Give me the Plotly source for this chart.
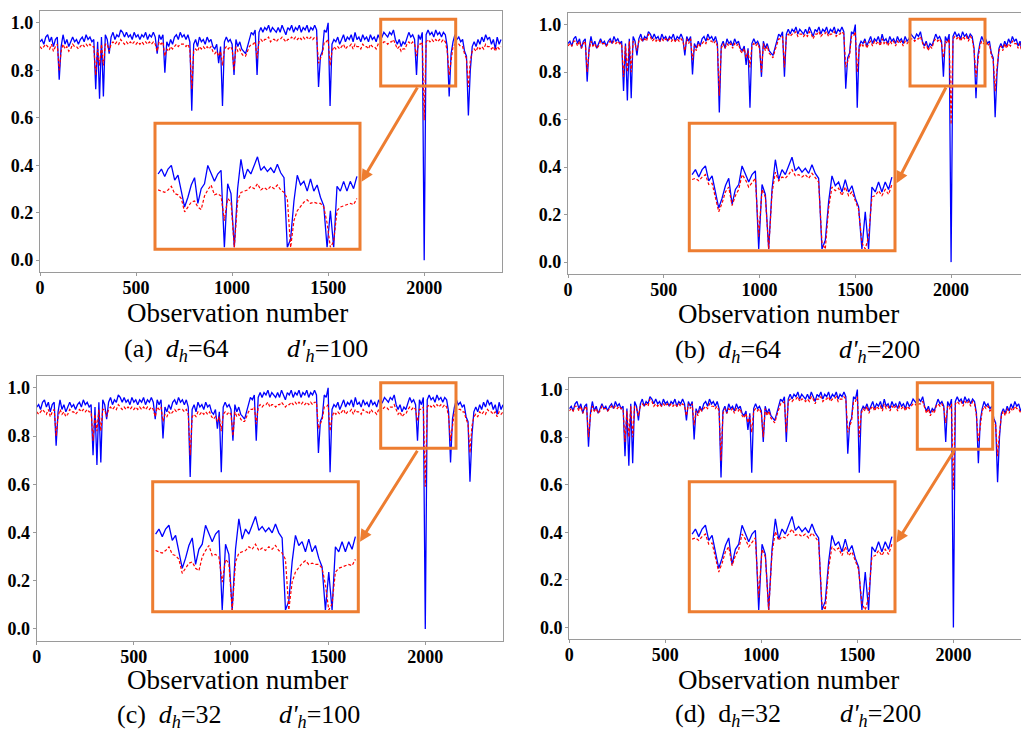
import plotly.graph_objects as go

# ---------------- data ----------------
obs_x = list(range(0, 2410, 10))

blue_vals = [
    0.92,0.93,0.91,0.94,0.95,0.92,0.94,0.90,0.93,0.94,
    0.76,0.90,0.95,0.91,0.93,0.90,0.92,0.94,0.92,0.93,
    0.91,0.93,0.94,0.92,0.95,0.93,0.94,0.92,0.93,0.72,
    0.92,0.68,0.94,0.69,0.95,0.93,0.87,0.94,0.96,0.93,
    0.95,0.94,0.97,0.96,0.94,0.96,0.94,0.95,0.93,0.96,
    0.94,0.95,0.93,0.95,0.94,0.96,0.93,0.95,0.94,0.96,
    0.94,0.87,0.95,0.93,0.95,0.79,0.92,0.90,0.93,0.91,
    0.94,0.95,0.93,0.96,0.94,0.95,0.93,0.95,0.92,0.63,
    0.91,0.93,0.90,0.94,0.92,0.93,0.91,0.94,0.92,0.93,
    0.90,0.89,0.91,0.83,0.90,0.65,0.92,0.94,0.92,0.93,
    0.91,0.78,0.93,0.90,0.92,0.89,0.88,0.87,0.90,0.93,
    0.96,0.95,0.97,0.78,0.96,0.98,0.96,0.98,0.97,0.99,
    0.96,0.98,0.97,0.96,0.98,0.96,0.99,0.97,0.95,0.98,
    0.97,0.99,0.96,0.98,0.97,0.99,0.96,0.98,0.97,0.99,
    0.96,0.98,0.97,0.99,0.97,0.73,0.86,0.88,0.97,0.96,
    1.00,0.65,0.91,0.93,0.92,0.94,0.91,0.93,0.95,0.92,
    0.94,0.93,0.95,0.92,0.96,0.93,0.94,0.92,0.95,0.93,
    0.94,0.92,0.95,0.93,0.94,0.92,0.95,0.93,0.94,0.96,
    0.95,0.94,0.96,0.95,0.97,0.93,0.91,0.93,0.90,0.92,
    0.91,0.94,0.96,0.94,0.95,0.93,0.78,0.95,0.93,0.96,
    0.00,0.95,0.97,0.95,0.96,0.94,0.97,0.95,0.96,0.94,
    0.96,0.95,0.90,0.69,0.87,0.92,0.95,0.93,0.94,0.92,
    0.93,0.88,0.86,0.61,0.80,0.90,0.92,0.90,0.93,0.91,
    0.94,0.92,0.95,0.93,0.94,0.91,0.93,0.89,0.94,0.91,
    0.93,
]

red_ac = [
    0.90,0.89,0.90,0.91,0.90,0.89,0.91,0.88,0.90,0.91,
    0.80,0.88,0.91,0.89,0.90,0.88,0.89,0.91,0.90,0.90,
    0.89,0.90,0.91,0.90,0.91,0.90,0.91,0.90,0.90,0.78,
    0.89,0.82,0.91,0.82,0.91,0.91,0.88,0.91,0.92,0.91,
    0.92,0.91,0.93,0.92,0.91,0.92,0.91,0.92,0.91,0.92,
    0.91,0.92,0.91,0.92,0.91,0.92,0.91,0.92,0.91,0.92,
    0.91,0.88,0.92,0.91,0.92,0.86,0.89,0.88,0.90,0.89,
    0.90,0.91,0.90,0.91,0.91,0.91,0.90,0.91,0.89,0.72,
    0.88,0.89,0.88,0.90,0.89,0.90,0.89,0.90,0.89,0.90,
    0.88,0.87,0.88,0.86,0.88,0.82,0.89,0.90,0.89,0.90,
    0.89,0.80,0.90,0.88,0.89,0.87,0.86,0.86,0.88,0.90,
    0.91,0.91,0.92,0.85,0.92,0.93,0.92,0.93,0.93,0.94,
    0.92,0.93,0.93,0.92,0.93,0.93,0.94,0.93,0.92,0.93,
    0.93,0.94,0.93,0.94,0.93,0.94,0.93,0.94,0.93,0.94,
    0.93,0.94,0.93,0.94,0.94,0.83,0.85,0.87,0.92,0.92,
    0.93,0.82,0.88,0.90,0.89,0.90,0.89,0.90,0.91,0.89,
    0.90,0.90,0.91,0.89,0.91,0.90,0.90,0.89,0.91,0.90,
    0.90,0.89,0.91,0.90,0.90,0.89,0.91,0.90,0.91,0.92,
    0.92,0.91,0.92,0.92,0.93,0.91,0.89,0.90,0.88,0.89,
    0.89,0.91,0.92,0.91,0.92,0.91,0.86,0.91,0.91,0.92,
    0.59,0.92,0.93,0.92,0.93,0.92,0.93,0.92,0.93,0.92,
    0.93,0.92,0.88,0.78,0.85,0.90,0.91,0.91,0.91,0.90,
    0.90,0.87,0.85,0.73,0.84,0.88,0.89,0.88,0.90,0.89,
    0.90,0.89,0.91,0.90,0.90,0.89,0.90,0.88,0.90,0.89,
    0.90,
]

red_bd = [
    0.91,0.92,0.91,0.93,0.93,0.91,0.93,0.90,0.92,0.93,
    0.80,0.89,0.93,0.91,0.92,0.90,0.91,0.93,0.92,0.92,
    0.91,0.92,0.93,0.92,0.93,0.92,0.93,0.92,0.92,0.78,
    0.91,0.80,0.93,0.80,0.93,0.92,0.89,0.93,0.94,0.93,
    0.94,0.93,0.96,0.95,0.93,0.94,0.93,0.94,0.93,0.94,
    0.93,0.94,0.93,0.94,0.93,0.94,0.93,0.94,0.93,0.94,
    0.93,0.89,0.94,0.92,0.94,0.85,0.91,0.89,0.92,0.91,
    0.92,0.93,0.92,0.94,0.93,0.93,0.92,0.93,0.91,0.70,
    0.90,0.92,0.90,0.92,0.91,0.92,0.90,0.92,0.91,0.92,
    0.89,0.88,0.90,0.86,0.89,0.82,0.91,0.92,0.91,0.92,
    0.90,0.80,0.92,0.89,0.91,0.88,0.87,0.86,0.89,0.92,
    0.94,0.94,0.95,0.82,0.95,0.96,0.95,0.96,0.96,0.97,
    0.95,0.96,0.96,0.95,0.96,0.95,0.97,0.96,0.94,0.96,
    0.96,0.97,0.95,0.96,0.96,0.97,0.95,0.96,0.96,0.97,
    0.95,0.96,0.96,0.97,0.96,0.82,0.85,0.87,0.95,0.95,
    0.97,0.80,0.90,0.92,0.91,0.93,0.90,0.92,0.93,0.91,
    0.93,0.92,0.93,0.91,0.94,0.92,0.93,0.91,0.93,0.92,
    0.93,0.91,0.93,0.92,0.93,0.91,0.93,0.92,0.93,0.94,
    0.94,0.93,0.94,0.94,0.95,0.92,0.90,0.92,0.89,0.91,
    0.90,0.93,0.94,0.93,0.94,0.92,0.86,0.93,0.92,0.94,
    0.58,0.94,0.95,0.94,0.95,0.93,0.95,0.94,0.95,0.93,
    0.95,0.94,0.89,0.78,0.86,0.91,0.93,0.92,0.93,0.91,
    0.92,0.87,0.85,0.72,0.82,0.89,0.91,0.89,0.92,0.90,
    0.92,0.91,0.93,0.92,0.92,0.90,0.92,0.88,0.92,0.90,
    0.92,
]

# zoomed-in insets (observation 1790..2150, inset scale)
inset_x = list(range(1790, 2156, 6))
inset_blue = [
    0.60,0.64,0.58,0.64,0.67,0.55,0.59,0.45,0.33,0.41,
    0.51,0.57,0.36,0.48,0.52,0.67,0.61,0.54,0.60,0.63,
    0.00,0.52,0.44,0.00,0.48,0.72,0.56,0.64,0.60,0.67,
    0.74,0.63,0.66,0.62,0.65,0.61,0.68,0.61,0.57,0.00,
    0.07,0.38,0.59,0.51,0.54,0.46,0.56,0.46,0.51,0.41,
    0.34,0.00,0.30,0.00,0.50,0.46,0.54,0.46,0.54,0.48,
    0.58,
]
inset_red_ac = [
    0.47,0.46,0.45,0.47,0.50,0.44,0.43,0.40,0.29,0.33,
    0.37,0.38,0.33,0.31,0.42,0.47,0.51,0.43,0.44,0.42,
    0.22,0.40,0.37,0.00,0.38,0.45,0.46,0.47,0.50,0.48,
    0.52,0.47,0.49,0.47,0.50,0.48,0.51,0.47,0.45,0.40,
    0.00,0.22,0.30,0.34,0.37,0.39,0.36,0.37,0.36,0.36,
    0.33,0.20,0.00,0.05,0.30,0.33,0.34,0.35,0.36,0.35,
    0.40,
]
inset_red_bd = [
    0.56,0.57,0.55,0.58,0.60,0.52,0.53,0.42,0.30,0.37,
    0.46,0.50,0.35,0.43,0.48,0.60,0.56,0.50,0.54,0.57,
    0.10,0.48,0.42,0.00,0.45,0.62,0.55,0.58,0.57,0.60,
    0.64,0.59,0.60,0.58,0.60,0.57,0.61,0.57,0.54,0.05,
    0.00,0.33,0.50,0.47,0.49,0.43,0.50,0.43,0.46,0.39,
    0.32,0.05,0.00,0.10,0.42,0.43,0.47,0.43,0.48,0.44,
    0.52,
]

x_ticks = [0, 500, 1000, 1500, 2000]
y_ticks = [0.0, 0.2, 0.4, 0.6, 0.8, 1.0]
captions = [
    ("(a)\u00a0\u00a0<i>d</i><sub><i>h</i></sub>=64", "<i>d'</i><sub><i>h</i></sub>=100"),
    ("(b)\u00a0\u00a0<i>d</i><sub><i>h</i></sub>=64", "<i>d'</i><sub><i>h</i></sub>=200"),
    ("(c)\u00a0\u00a0<i>d</i><sub><i>h</i></sub>=32", "<i>d'</i><sub><i>h</i></sub>=100"),
    ("(d)\u00a0\u00a0d<sub><i>h</i></sub>=32", "<i>d'</i><sub><i>h</i></sub>=200"),
]
x_title = "Observation number"

# ---------------- layout helpers ----------------
W, H = 1021, 733
def px(x):
    return x / W
def py(y):
    return 1 - y / H

ORANGE = "#ED7D31"
AXC = "#9a9a9a"
SERIF = "Liberation Serif"

panels = [
    dict(xs=(40, 502), ys=(11, 272), xmax=2405, right=True, red=red_ac,
         inset=(157, 358, 125, 247.5), ibox=(155, 360, 123.3, 249.3), ired=inset_red_ac,
         sbox=(380.7, 455.7, 19.3, 86), arrow=((361.5, 181.7), (418.3, 86)),
         cap=(122, 285, 350), title=(237, 313)),
    dict(xs=(568, 1021), ys=(12.7, 274), xmax=2365, right=False, red=red_bd,
         inset=(691, 893, 125, 249), ibox=(689.3, 895, 123.3, 250.7), ired=inset_red_bd,
         sbox=(910, 985, 19.3, 86), arrow=((896.5, 183.3), (946.7, 86)),
         cap=(673, 837, 351), title=(788, 314)),
    dict(xs=(36.7, 503), ys=(375.7, 641), xmax=2400, right=True, red=red_ac,
         inset=(154.5, 356.5, 483.5, 610), ibox=(152.7, 358.3, 481.7, 611.7), ired=inset_red_ac,
         sbox=(380.7, 456, 382.7, 448.3), arrow=((360, 541.7), (418.3, 449.3)),
         cap=(115, 277, 716), title=(237, 680)),
    dict(xs=(569.3, 1021), ys=(377.7, 639.3), xmax=2352, right=False, red=red_bd,
         inset=(691, 893, 483.5, 610), ibox=(689.3, 895, 481.7, 611.7), ired=inset_red_bd,
         sbox=(917.3, 992.7, 382.7, 449.3), arrow=((896.5, 542.7), (955, 449.3)),
         cap=(673, 838, 715), title=(788, 680)),
]

fig = go.Figure()
layout = dict(
    template="none",
    width=W, height=H,
    margin=dict(l=0, r=0, t=0, b=0, autoexpand=False),
    paper_bgcolor="white", plot_bgcolor="white",
    showlegend=False,
    shapes=[], annotations=[],
)

tickfont = dict(family=SERIF, size=18, color="black", weight="bold")

for i, p in enumerate(panels):
    n = i + 1
    sfx = "" if n == 1 else str(n)
    xa, ya = "x" + sfx, "y" + sfx
    fig.add_trace(go.Scatter(x=obs_x, y=blue_vals, mode="lines", xaxis=xa, yaxis=ya,
                             line=dict(color="#0000ff", width=1.3), hoverinfo="skip"))
    fig.add_trace(go.Scatter(x=obs_x, y=p["red"], mode="lines", xaxis=xa, yaxis=ya,
                             line=dict(color="#ff0000", width=1.2, dash="3px,2px"), hoverinfo="skip"))
    layout["xaxis" + sfx] = dict(
        domain=[px(p["xs"][0]), px(p["xs"][1])], anchor=ya, range=[0, p["xmax"]],
        automargin=False,
        showline=True, linecolor=AXC, linewidth=1.2, mirror=True,
        ticks="outside", ticklen=3, tickcolor=AXC, tickwidth=1, ticklabelstandoff=-4,
        tickvals=x_ticks, tickfont=tickfont, showgrid=False, zeroline=False,
    )
    layout["yaxis" + sfx] = dict(
        domain=[py(p["ys"][1]), py(p["ys"][0])], anchor=xa, range=[-0.05, 1.05],
        automargin=False,
        showline=True, linecolor=AXC, linewidth=1.2, mirror=p["right"],
        ticks="outside", ticklen=3, tickcolor=AXC, tickwidth=1, ticklabelstandoff=-1,
        tickvals=y_ticks, tickformat=".1f", tickfont=tickfont, showgrid=False, zeroline=False,
    )

    # inset
    m = n + 4
    ixa, iya = "x%d" % m, "y%d" % m
    x0, x1, y0, y1 = p["inset"]
    fig.add_trace(go.Scatter(x=inset_x, y=inset_blue, mode="lines", xaxis=ixa, yaxis=iya,
                             line=dict(color="#0000ff", width=1.3), hoverinfo="skip"))
    fig.add_trace(go.Scatter(x=inset_x, y=p["ired"], mode="lines", xaxis=ixa, yaxis=iya,
                             line=dict(color="#ff0000", width=1.2, dash="3px,2px"), hoverinfo="skip"))
    layout["xaxis%d" % m] = dict(domain=[px(x0), px(x1)], anchor=iya, range=[1788, 2152],
                                  visible=False, automargin=False)
    layout["yaxis%d" % m] = dict(domain=[py(y1), py(y0)], anchor=ixa, range=[0, 1],
                                  visible=False, automargin=False)

    bx0, bx1, by0, by1 = p["ibox"]
    layout["shapes"].append(dict(type="rect", xref="paper", yref="paper",
                                 x0=px(bx0), x1=px(bx1), y0=py(by1), y1=py(by0),
                                 line=dict(color=ORANGE, width=3)))
    sx0, sx1, sy0, sy1 = p["sbox"]
    layout["shapes"].append(dict(type="rect", xref="paper", yref="paper",
                                 x0=px(sx0), x1=px(sx1), y0=py(sy1), y1=py(sy0),
                                 line=dict(color=ORANGE, width=3)))
    (tx, ty), (tlx, tly) = p["arrow"]
    layout["annotations"].append(dict(
        x=px(tx), y=py(ty), xref="paper", yref="paper", text="", showarrow=True,
        ax=tlx - tx, ay=tly - ty, arrowhead=2, arrowsize=0.8, arrowwidth=3,
        arrowcolor=ORANGE, standoff=0, startstandoff=0))

    tcx, tcy = p["title"]
    layout["annotations"].append(dict(
        x=px(tcx), y=py(tcy), xref="paper", yref="paper", text=x_title, showarrow=False,
        xanchor="center", yanchor="middle", font=dict(family=SERIF, size=27, color="black")))
    c1, c2, cy = p["cap"]
    t1, t2 = captions[i]
    layout["annotations"].append(dict(
        x=px(c1), y=py(cy), xref="paper", yref="paper", text=t1, showarrow=False,
        xanchor="left", yanchor="middle", font=dict(family=SERIF, size=26, color="black")))
    layout["annotations"].append(dict(
        x=px(c2), y=py(cy), xref="paper", yref="paper", text=t2, showarrow=False,
        xanchor="left", yanchor="middle", font=dict(family=SERIF, size=26, color="black")))

fig.update_layout(**layout)
fig.write_html("out.html", config={"displayModeBar": False},
               post_script="document.body.style.margin='0px';document.body.style.overflow='hidden';")
